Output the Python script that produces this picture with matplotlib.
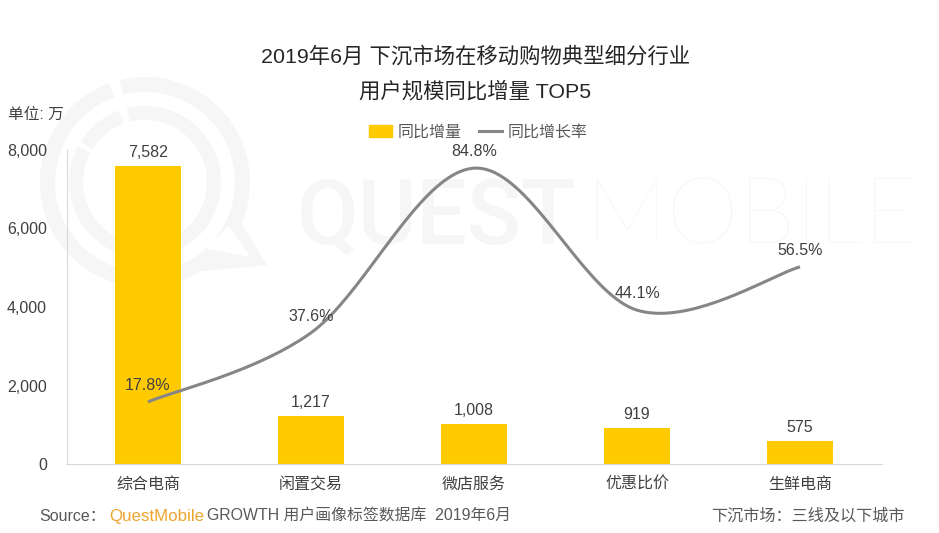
import numpy as np
import matplotlib
matplotlib.use('Agg')
import matplotlib.pyplot as plt
from matplotlib.lines import Line2D
from matplotlib.patches import Patch, Wedge, Polygon

plt.rcParams['font.family'] = ['Liberation Sans', 'Noto Sans CJK SC']

categories = ['综合电商', '闲置交易', '微店服务', '优惠比价', '生鲜电商']
increase = [7582, 1217, 1008, 919, 575]
growth = [17.8, 37.6, 84.8, 44.1, 56.5]
y_ticks = [0, 2000, 4000, 6000, 8000]

W, H = 939, 533
BAR_COLOR = '#FFCA00'
LINE_COLOR = '#868686'
TEXT_COLOR = '#404040'
MARK_COLOR = '#F6F6F6'


def smooth_curve(x, y, steps=40):
    # сплайн як у згладженій лінії Excel
    px = np.array(x, dtype=float)
    py = np.array(y, dtype=float)
    out_x, out_y = [], []
    for i in range(len(px) - 1):
        a = max(i - 1, 0)
        b = min(i + 2, len(px) - 1)
        c1x = px[i] + (px[i + 1] - px[a]) / 6
        c1y = py[i] + (py[i + 1] - py[a]) / 6
        c2x = px[i + 1] - (px[b] - px[i]) / 6
        c2y = py[i + 1] - (py[b] - py[i]) / 6
        t = np.linspace(0, 1, steps)
        out_x.extend((1 - t) ** 3 * px[i] + 3 * (1 - t) ** 2 * t * c1x + 3 * (1 - t) * t ** 2 * c2x + t ** 3 * px[i + 1])
        out_y.extend((1 - t) ** 3 * py[i] + 3 * (1 - t) ** 2 * t * c1y + 3 * (1 - t) * t ** 2 * c2y + t ** 3 * py[i + 1])
    return out_x, out_y


fig = plt.figure(figsize=(W / 100, H / 100), dpi=100, facecolor='white')

# водяний знак у піксельних координатах
bg = fig.add_axes([0, 0, 1, 1], zorder=0)
bg.set_xlim(0, W)
bg.set_ylim(H, 0)
bg.axis('off')
# у цих осях y перевернуто, тому кути Wedge йдуть за годинниковою стрілкою
for start, end in [(-104, 208), (-152, -110), (-180, -156)]:
    bg.add_patch(Wedge((145, 182), 105, start, end, width=15, color=MARK_COLOR, lw=0))
for start, end in [(-104, 208), (-148, -110)]:
    bg.add_patch(Wedge((145, 182), 76, start, end, width=14, color=MARK_COLOR, lw=0))
bg.add_patch(Polygon([[238, 218], [267, 265], [192, 272]], closed=True, color=MARK_COLOR, lw=0))
bg.add_patch(Polygon([[229, 226], [250, 257], [205, 248]], closed=True, color='white', lw=0))
bg.text(297, 244, 'QUEST', fontsize=64.5, fontweight='medium', color=MARK_COLOR, family='Roboto', va='baseline', ha='left')
bg.text(585, 244, 'MOBILE', fontsize=66, fontweight='light', color=MARK_COLOR, family='Lato', va='baseline', ha='left')

ax = fig.add_axes([66.5 / W, (H - 464) / H, 815 / W, 314 / H], zorder=1)
ax.patch.set_alpha(0)
x = np.arange(len(categories))
ax.bar(x, increase, width=0.4, color=BAR_COLOR, zorder=2)
ax.set_xlim(-0.5, 4.5)
ax.set_ylim(0, 8000)
ax.set_yticks(y_ticks)
ax.set_yticklabels([f'{v:,}' for v in y_ticks], fontsize=11.5, color=TEXT_COLOR)
ax.set_xticks(x)
ax.set_xticklabels(categories, fontsize=11.5, color=TEXT_COLOR)
ax.tick_params(length=0)
ax.tick_params(axis='x', pad=9)
ax.tick_params(axis='y', pad=14)
for s in ['top', 'right']:
    ax.spines[s].set_visible(False)
for s in ['left', 'bottom']:
    ax.spines[s].set_color('#D9D9D9')

for i, v in enumerate(increase):
    ax.annotate(f'{v:,}', (i, v), xytext=(0, 4.5), textcoords='offset points', ha='center', va='bottom',
                fontsize=11.5, color=TEXT_COLOR)

ax2 = ax.twinx()
ax2.patch.set_alpha(0)
ax2.set_ylim(0, 90)
ax2.axis('off')
sx, sy = smooth_curve(x, growth)
ax2.plot(sx, sy, color=LINE_COLOR, lw=2.2, solid_capstyle='butt', zorder=3)
for i, v in enumerate(growth):
    ax2.annotate(f'{v}%', (i, v), xytext=(0, 6.5), textcoords='offset points', ha='center', va='bottom',
                 fontsize=11.5, color=TEXT_COLOR, zorder=4)

handles = [Patch(color=BAR_COLOR), Line2D([], [], color=LINE_COLOR, lw=2.2)]
fig.legend(handles, ['同比增量', '同比增长率'], loc='center', bbox_to_anchor=(478 / W, (H - 132) / H), ncol=2,
           frameon=False, fontsize=11.5, labelcolor='#595959', handlelength=1.44, handleheight=0.7,
           handletextpad=0.35, columnspacing=1.1, borderpad=0)

fig.text(475.5 / W, (H - 56) / H, '2019年6月 下沉市场在移动购物典型细分行业', fontsize=15.4, color='#262626', ha='center', va='center')
fig.text(475.5 / W, (H - 91) / H, '用户规模同比增量 TOP5', fontsize=15.4, color='#262626', ha='center', va='center')
fig.text(8 / W, (H - 114) / H, '单位: 万', fontsize=11.3, color=TEXT_COLOR, va='center')

fig.text(39 / W, (H - 516) / H, 'Source：', fontsize=11.5, color='#595959', va='center')
fig.text(109 / W, (H - 516) / H, 'QuestMobile', fontsize=12.2, color='#EDA52F', va='center')
fig.text(207 / W, (H - 516) / H, 'GROWTH 用户画像标签数据库  2019年6月', fontsize=11.4, color='#595959', va='center')
fig.text(905 / W, (H - 516) / H, '下沉市场：三线及以下城市', fontsize=11.6, color='#595959', va='center', ha='right')

fig.savefig('out.png', dpi=100)
plt.close(fig)
